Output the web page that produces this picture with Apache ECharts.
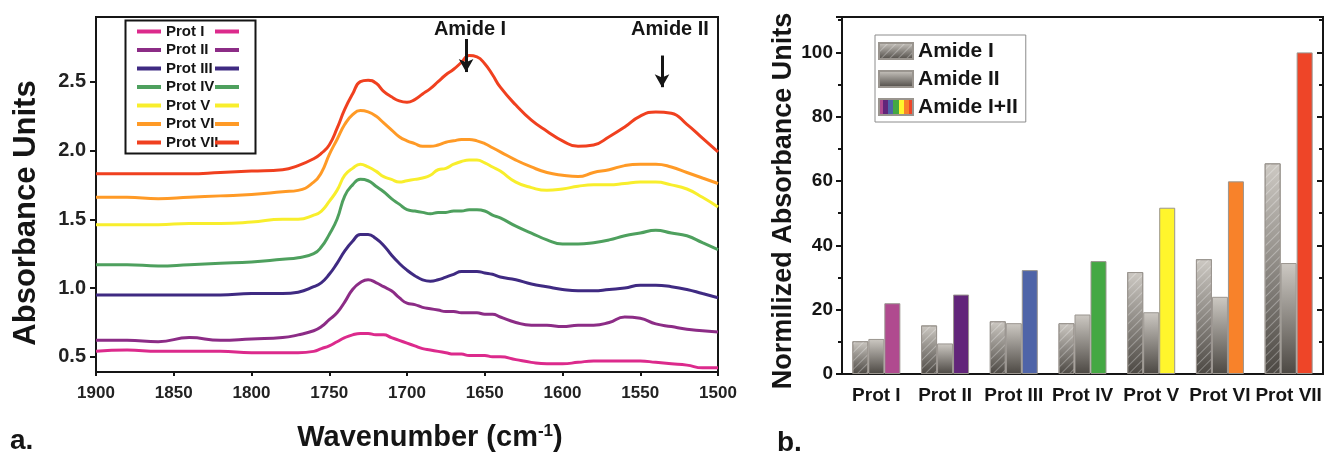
<!DOCTYPE html>
<html>
<head>
<meta charset="utf-8">
<script src="https://cdn.jsdelivr.net/npm/echarts@6/dist/echarts.min.js"></script>
<style>
  html, body { margin: 0; padding: 0; background: #fff; }
  #main { width: 1326px; height: 458px; }
</style>
</head>
<body>
<div id="main"></div>
<script>
  // spectra (panel a)
  const wavenumbers = [1900, 1880, 1860, 1840, 1820, 1800, 1780, 1770, 1760, 1755, 1750, 1745, 1740, 1735, 1730, 1725,
    1720, 1715, 1710, 1705, 1700, 1695, 1690, 1685, 1680, 1675, 1670, 1665, 1660, 1655, 1650, 1645, 1640,
    1630, 1620, 1610, 1600, 1590, 1580, 1570, 1560, 1550, 1540, 1530, 1520, 1510, 1500]
  const protI = [0.54, 0.55, 0.54, 0.54, 0.54, 0.53, 0.53, 0.53, 0.54, 0.56, 0.58, 0.61, 0.64, 0.66, 0.67, 0.67,
    0.66, 0.66, 0.64, 0.62, 0.60, 0.58, 0.56, 0.55, 0.54, 0.53, 0.52, 0.52, 0.51, 0.51, 0.51, 0.50, 0.50,
    0.48, 0.46, 0.45, 0.45, 0.46, 0.47, 0.47, 0.47, 0.47, 0.46, 0.45, 0.44, 0.42, 0.42]
  const protII = [0.62, 0.62, 0.61, 0.64, 0.62, 0.63, 0.64, 0.66, 0.69, 0.72, 0.77, 0.82, 0.90, 0.99, 1.04, 1.06,
    1.04, 1.01, 0.98, 0.93, 0.89, 0.88, 0.86, 0.85, 0.84, 0.83, 0.83, 0.82, 0.82, 0.82, 0.81, 0.81, 0.79,
    0.75, 0.73, 0.73, 0.72, 0.73, 0.73, 0.75, 0.79, 0.78, 0.74, 0.72, 0.70, 0.69, 0.68]
  const protIII = [0.95, 0.95, 0.95, 0.95, 0.95, 0.96, 0.96, 0.97, 1.01, 1.04, 1.10, 1.18, 1.27, 1.34, 1.39, 1.39,
    1.36, 1.31, 1.24, 1.18, 1.13, 1.09, 1.06, 1.05, 1.06, 1.08, 1.10, 1.12, 1.12, 1.12, 1.11, 1.10, 1.08,
    1.06, 1.03, 1.01, 0.99, 0.98, 0.98, 0.99, 1.00, 1.02, 1.02, 1.01, 0.99, 0.96, 0.93]
  const protIV = [1.17, 1.17, 1.16, 1.17, 1.18, 1.19, 1.21, 1.22, 1.25, 1.30, 1.39, 1.50, 1.67, 1.75, 1.79, 1.78,
    1.74, 1.70, 1.65, 1.61, 1.57, 1.56, 1.55, 1.54, 1.55, 1.55, 1.56, 1.56, 1.57, 1.57, 1.56, 1.53, 1.51,
    1.45, 1.40, 1.35, 1.32, 1.32, 1.33, 1.35, 1.38, 1.40, 1.42, 1.40, 1.38, 1.33, 1.28]
  const protV = [1.46, 1.46, 1.46, 1.47, 1.47, 1.48, 1.50, 1.50, 1.53, 1.56, 1.63, 1.71, 1.82, 1.87, 1.90, 1.88,
    1.85, 1.81, 1.79, 1.77, 1.78, 1.79, 1.80, 1.82, 1.86, 1.87, 1.90, 1.92, 1.93, 1.93, 1.91, 1.88, 1.85,
    1.77, 1.73, 1.71, 1.72, 1.74, 1.75, 1.75, 1.76, 1.77, 1.77, 1.75, 1.72, 1.66, 1.59]
  const protVI = [1.66, 1.66, 1.65, 1.66, 1.67, 1.68, 1.70, 1.71, 1.77, 1.84, 1.97, 2.08, 2.19, 2.26, 2.29, 2.28,
    2.25, 2.20, 2.15, 2.10, 2.07, 2.05, 2.03, 2.03, 2.04, 2.06, 2.07, 2.08, 2.08, 2.07, 2.05, 2.02, 1.99,
    1.93, 1.88, 1.84, 1.82, 1.81, 1.84, 1.86, 1.89, 1.90, 1.90, 1.88, 1.84, 1.80, 1.76]
  const protVII = [1.83, 1.83, 1.83, 1.83, 1.84, 1.85, 1.86, 1.89, 1.94, 1.98, 2.04, 2.16, 2.30, 2.41, 2.50, 2.51,
    2.49, 2.43, 2.39, 2.36, 2.35, 2.37, 2.41, 2.45, 2.50, 2.55, 2.59, 2.64, 2.69, 2.68, 2.63, 2.55, 2.46,
    2.33, 2.22, 2.14, 2.07, 2.03, 2.04, 2.10, 2.17, 2.25, 2.28, 2.27, 2.19, 2.09, 1.99]
  const absTicks = [0.5, 1.0, 1.5, 2.0, 2.5]

  // normalized bars (panel b)
  const proteins = ['Prot I', 'Prot II', 'Prot III', 'Prot IV', 'Prot V', 'Prot VI', 'Prot VII']
  const amideI = [10.2, 15.1, 16.4, 15.8, 31.7, 35.7, 65.5]
  const amideII = [10.9, 9.5, 15.8, 18.5, 19.2, 24.0, 34.5]
  const amideSum = [22.0, 24.7, 32.3, 35.1, 51.7, 59.9, 100]

  const spectra = [
    { name: 'Prot I', data: protI, color: '#dc2a8c' },
    { name: 'Prot II', data: protII, color: '#8c2c86' },
    { name: 'Prot III', data: protIII, color: '#3f2a82' },
    { name: 'Prot IV', data: protIV, color: '#4ea05e' },
    { name: 'Prot V', data: protV, color: '#f8ee2c' },
    { name: 'Prot VI', data: protVI, color: '#ff9a26' },
    { name: 'Prot VII', data: protVII, color: '#f0401f' }
  ]
  const sumColors = ['#b04a8f', '#62257a', '#4f64a8', '#44a843', '#fff52c', '#f8822a', '#ee4528']

  const font = 'Liberation Sans, Arial, sans-serif'
  const ink = '#151515'

  const grayGrad = () => new echarts.graphic.LinearGradient(0, 0, 0, 1, [
    { offset: 0, color: '#cdc9c3' },
    { offset: 1, color: '#4c4843' }
  ])
  const rainbowStops = []
  sumColors.forEach((c, i) => {
    rainbowStops.push({ offset: i / 7, color: c })
    rainbowStops.push({ offset: (i + 1) / 7, color: c })
  })

  const chart = echarts.init(document.getElementById('main'))

  const lineSeries = spectra.map(s => ({
    name: s.name,
    type: 'line',
    xAxisIndex: 0,
    yAxisIndex: 0,
    smooth: 0.5,
    showSymbol: false,
    symbol: 'none',
    color: s.color,
    lineStyle: { width: 3, color: s.color },
    data: wavenumbers.map((w, i) => [w, s.data[i]])
  }))

  // arrows marking the amide bands
  lineSeries[6].markLine = {
    silent: true,
    animation: false,
    symbol: ['none', 'arrow'],
    symbolSize: [11, 13],
    label: { show: false },
    lineStyle: { color: ink, width: 3, type: 'solid' },
    data: [
      [{ coord: [1662, 2.81] }, { coord: [1662, 2.57] }],
      [{ coord: [1536, 2.69] }, { coord: [1536, 2.46] }]
    ]
  }

  chart.setOption({
    animation: false,
    backgroundColor: '#fff',
    textStyle: { fontFamily: font },
    grid: [
      { left: 96, right: 608, top: 17, bottom: 86, show: true, borderColor: ink, borderWidth: 2 },
      { left: 842, right: 3, top: 17, bottom: 84, show: true, borderColor: ink, borderWidth: 2 }
    ],
    legend: [
      {
        data: spectra.map(s => s.name),
        orient: 'vertical',
        left: 137,
        top: 24,
        padding: 0,
        itemWidth: 24,
        itemHeight: 4,
        itemGap: 3.5,
        icon: 'rect',
        selectedMode: false,
        textStyle: { fontSize: 15, fontWeight: 'bold', color: ink, lineHeight: 14, fontFamily: font }
      },
      {
        data: spectra.map(s => s.name),
        orient: 'vertical',
        left: 215,
        top: 24,
        padding: 0,
        itemWidth: 24,
        itemHeight: 4,
        itemGap: 3.5,
        icon: 'rect',
        selectedMode: false,
        formatter: () => ' ',
        textStyle: { fontSize: 15, lineHeight: 14, fontFamily: font }
      },
      {
        data: ['Amide I', 'Amide II', 'Amide I+II'],
        orient: 'vertical',
        left: 875,
        top: 35,
        padding: [4, 8, 3, 3],
        itemWidth: 34,
        itemHeight: 16,
        itemGap: 4,
        icon: 'rect',
        selectedMode: false,
        borderColor: '#8c8c8c',
        borderWidth: 1,
        textStyle: { fontSize: 21, fontWeight: 'bold', color: ink, lineHeight: 24, fontFamily: font }
      }
    ],
    xAxis: [
      {
        type: 'value',
        gridIndex: 0,
        inverse: true,
        min: 1500,
        max: 1900,
        interval: 50,
        axisLine: { lineStyle: { color: ink, width: 2 } },
        axisTick: { length: 4, lineStyle: { color: ink, width: 2 } },
        axisLabel: { formatter: v => String(v), fontSize: 17, fontWeight: 'bold', color: '#222', margin: 13 },
        splitLine: { show: false }
      },
      {
        type: 'category',
        gridIndex: 1,
        data: proteins,
        axisLine: { lineStyle: { color: ink, width: 2 } },
        axisTick: { alignWithLabel: true, length: 5, lineStyle: { color: ink, width: 2 } },
        axisLabel: { fontSize: 19, fontWeight: 'bold', color: ink, margin: 12, interval: 0 },
        splitLine: { show: false }
      },
      {
        type: 'category',
        gridIndex: 1,
        position: 'top',
        data: proteins,
        axisLine: { lineStyle: { color: ink, width: 2 } },
        axisTick: { alignWithLabel: true, inside: true, length: 5, lineStyle: { color: ink, width: 2 } },
        axisLabel: { show: false },
        splitLine: { show: false }
      }
    ],
    yAxis: [
      {
        type: 'value',
        gridIndex: 0,
        min: 0.39,
        max: 2.97,
        axisLine: { show: true, lineStyle: { color: ink, width: 2 } },
        axisTick: { show: true, customValues: absTicks, length: 6, lineStyle: { color: ink, width: 2 } },
        axisLabel: { customValues: absTicks, formatter: v => v.toFixed(1), fontSize: 20, fontWeight: 'bold', color: '#222', margin: 10 },
        splitLine: { show: false }
      },
      {
        type: 'value',
        gridIndex: 1,
        min: 0,
        max: 111,
        interval: 20,
        axisLine: { show: true, lineStyle: { color: ink, width: 2 } },
        axisTick: { show: true, length: 6, lineStyle: { color: ink, width: 2 } },
        minorTick: { show: true, splitNumber: 2, length: 4, lineStyle: { color: ink, width: 2 } },
        axisLabel: { fontSize: 19, fontWeight: 'bold', color: ink, margin: 9, showMaxLabel: false },
        splitLine: { show: false }
      },
      {
        type: 'value',
        gridIndex: 1,
        position: 'right',
        min: 0,
        max: 111,
        interval: 20,
        axisLine: { show: true, lineStyle: { color: ink, width: 2 } },
        axisTick: { show: true, inside: true, length: 6, lineStyle: { color: ink, width: 2 } },
        minorTick: { show: true, splitNumber: 2, length: 4, lineStyle: { color: ink, width: 2 } },
        axisLabel: { show: false },
        splitLine: { show: false }
      }
    ],
    series: lineSeries.concat([
      {
        name: 'Amide I',
        type: 'bar',
        xAxisIndex: 1,
        yAxisIndex: 1,
        barWidth: 16,
        barGap: '0%',
        itemStyle: {
          color: grayGrad(),
          borderColor: '#9a958f',
          borderWidth: 1,
          decal: {
            symbol: 'rect',
            symbolSize: 1,
            color: 'rgba(255,255,255,0.3)',
            dashArrayX: [1, 0],
            dashArrayY: [1, 5],
            rotation: -Math.PI / 4
          }
        },
        data: amideI
      },
      {
        name: 'Amide II',
        type: 'bar',
        xAxisIndex: 1,
        yAxisIndex: 1,
        barWidth: 16,
        barGap: '0%',
        itemStyle: { color: grayGrad(), borderColor: '#9a958f', borderWidth: 1 },
        data: amideII
      },
      {
        name: 'Amide I+II',
        type: 'bar',
        xAxisIndex: 1,
        yAxisIndex: 1,
        barWidth: 16,
        barGap: '0%',
        itemStyle: {
          color: new echarts.graphic.LinearGradient(0, 0, 1, 0, rainbowStops),
          borderColor: '#9a958f',
          borderWidth: 1
        },
        data: amideSum.map((v, i) => ({ value: v, itemStyle: { color: sumColors[i] } }))
      }
    ]),
    graphic: [
      { type: 'rect', left: 123, top: 18, shape: { width: 130, height: 133 }, style: { fill: 'none', stroke: ink, lineWidth: 2 }, silent: true },
      { type: 'text', x: 470, y: 29, style: { text: 'Amide I', font: 'bold 20px ' + font, fill: ink, align: 'center', verticalAlign: 'middle' } },
      { type: 'text', x: 670, y: 29, style: { text: 'Amide II', font: 'bold 20px ' + font, fill: ink, align: 'center', verticalAlign: 'middle' } },
      { type: 'text', x: 26, y: 213, rotation: Math.PI / 2, style: { text: 'Absorbance Units', font: 'bold 31px ' + font, fill: ink, align: 'center', verticalAlign: 'middle' } },
      {
        type: 'text', x: 430, y: 438,
        style: {
          text: 'Wavenumber (cm{sup|-1})',
          font: 'bold 29px ' + font, fill: ink, align: 'center', verticalAlign: 'middle',
          rich: { sup: { font: 'bold 17px ' + font, fill: ink, padding: [0, 0, 14, 0] } }
        }
      },
      { type: 'text', x: 10, y: 441, style: { text: 'a.', font: 'bold 28px ' + font, fill: ink, verticalAlign: 'middle' } },
      { type: 'text', x: 784, y: 201, rotation: Math.PI / 2, style: { text: 'Normilized Absorbance Units', font: 'bold 27px ' + font, fill: ink, align: 'center', verticalAlign: 'middle' } },
      { type: 'text', x: 777, y: 443, style: { text: 'b.', font: 'bold 28px ' + font, fill: ink, verticalAlign: 'middle' } }
    ]
  })
</script>
</body>
</html>
